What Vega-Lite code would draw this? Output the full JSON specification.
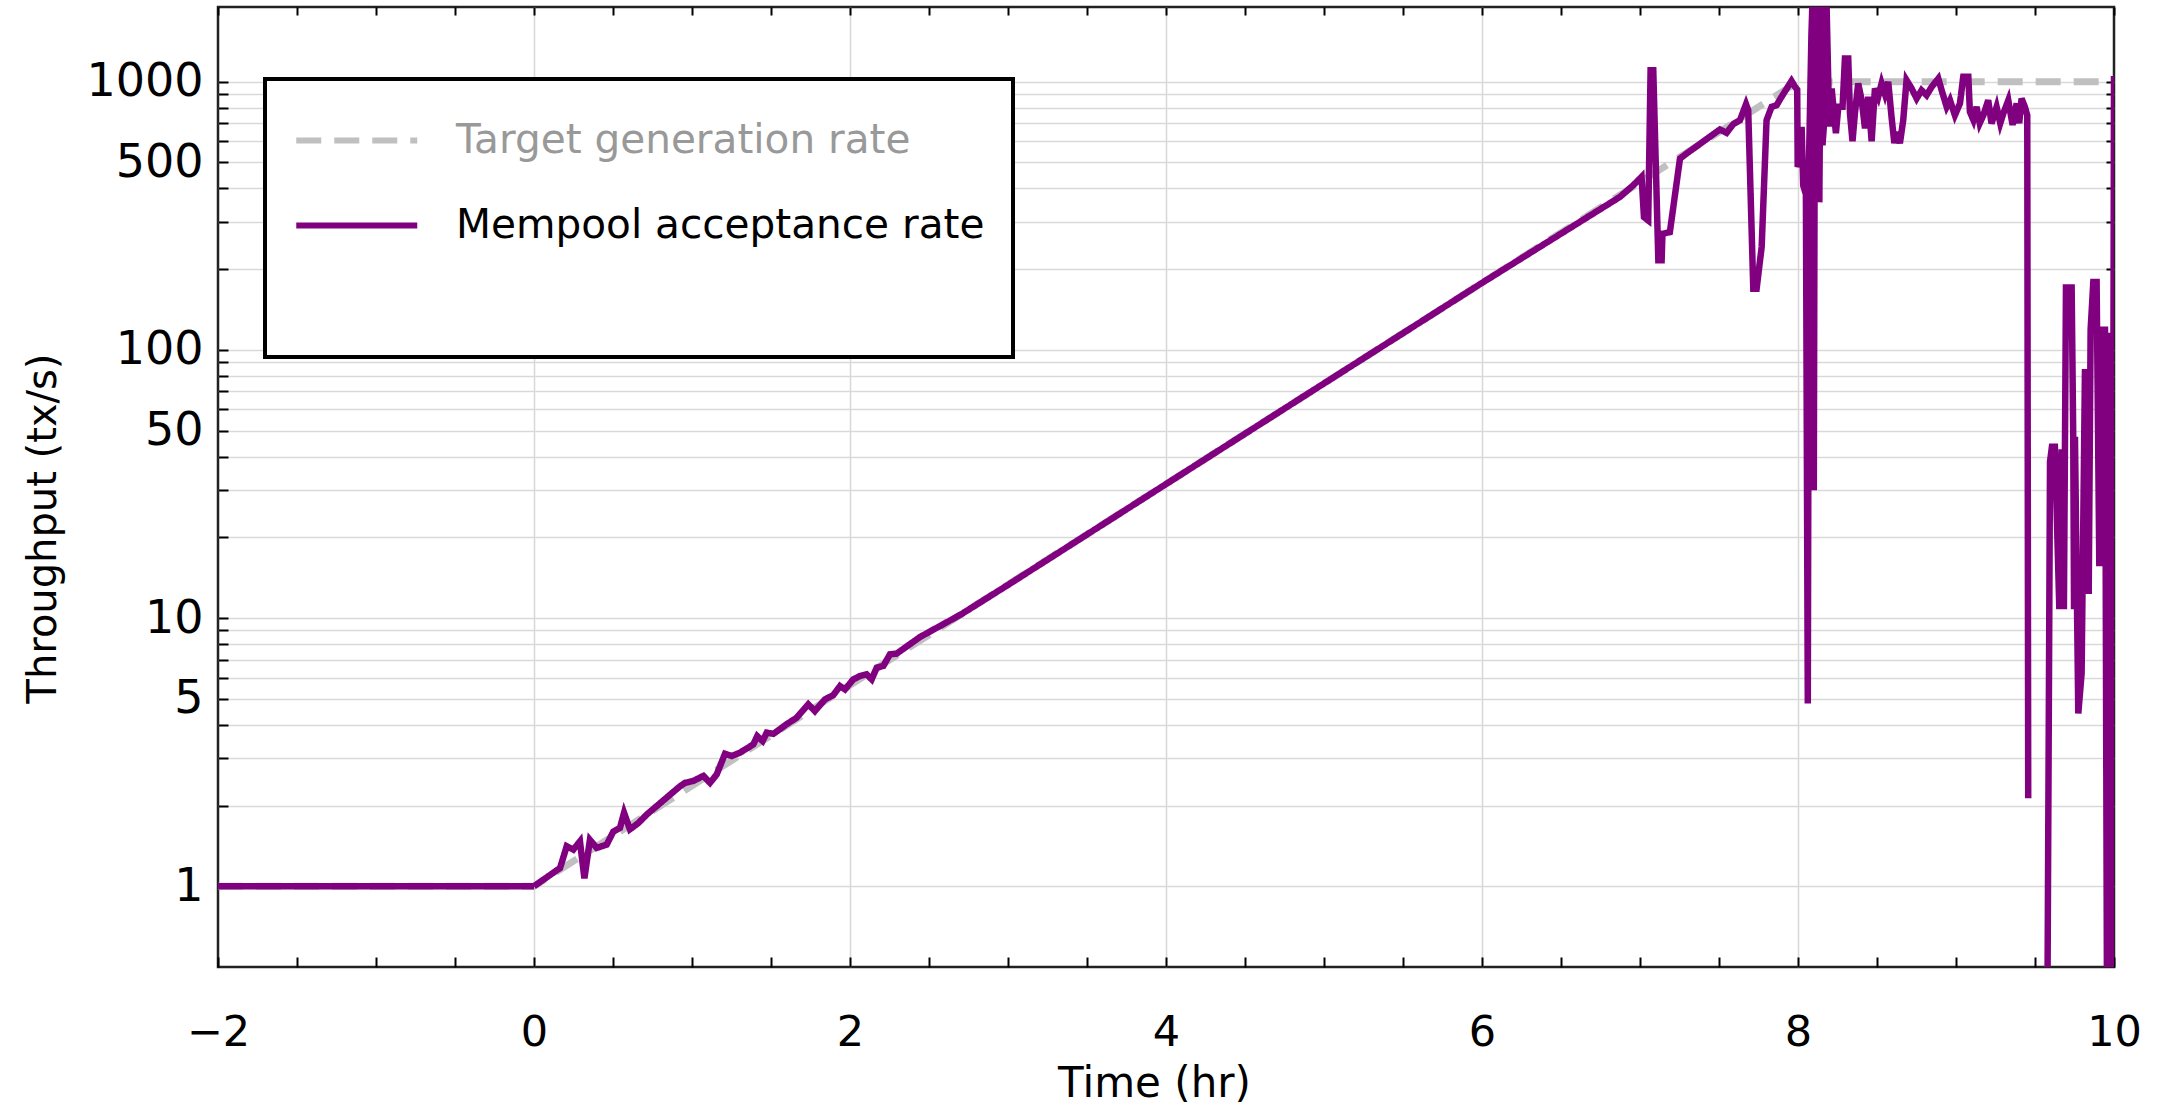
{
  "$schema": "https://vega.github.io/schema/vega-lite/v6.json",
  "autosize": "none",
  "width": 1896,
  "height": 960,
  "padding": {"left": 218, "top": 7, "right": 50, "bottom": 143},
  "background": "white",
  "config": {
    "view": {"stroke": "#222222", "strokeWidth": 2.5},
    "font": "DejaVu Sans"
  },
  "data": {
    "values": [
      {"t": -2, "rate": 1, "series": "Target generation rate"},
      {"t": 0, "rate": 1, "series": "Target generation rate"},
      {"t": 8, "rate": 1000, "series": "Target generation rate"},
      {"t": 10, "rate": 1000, "series": "Target generation rate"},

      {"t": -2, "rate": 1, "series": "Mempool acceptance rate"},
      {"t": 0, "rate": 1, "series": "Mempool acceptance rate"},
      {"t": 0.165, "rate": 1.17, "series": "Mempool acceptance rate"},
      {"t": 0.207, "rate": 1.41, "series": "Mempool acceptance rate"},
      {"t": 0.249, "rate": 1.37, "series": "Mempool acceptance rate"},
      {"t": 0.291, "rate": 1.47, "series": "Mempool acceptance rate"},
      {"t": 0.319, "rate": 1.07, "series": "Mempool acceptance rate"},
      {"t": 0.354, "rate": 1.49, "series": "Mempool acceptance rate"},
      {"t": 0.397, "rate": 1.39, "series": "Mempool acceptance rate"},
      {"t": 0.46, "rate": 1.43, "series": "Mempool acceptance rate"},
      {"t": 0.502, "rate": 1.6, "series": "Mempool acceptance rate"},
      {"t": 0.544, "rate": 1.65, "series": "Mempool acceptance rate"},
      {"t": 0.57, "rate": 1.88, "series": "Mempool acceptance rate"},
      {"t": 0.607, "rate": 1.63, "series": "Mempool acceptance rate"},
      {"t": 0.66, "rate": 1.72, "series": "Mempool acceptance rate"},
      {"t": 0.713, "rate": 1.85, "series": "Mempool acceptance rate"},
      {"t": 0.924, "rate": 2.36, "series": "Mempool acceptance rate"},
      {"t": 0.956, "rate": 2.43, "series": "Mempool acceptance rate"},
      {"t": 1.008, "rate": 2.47, "series": "Mempool acceptance rate"},
      {"t": 1.072, "rate": 2.58, "series": "Mempool acceptance rate"},
      {"t": 1.114, "rate": 2.43, "series": "Mempool acceptance rate"},
      {"t": 1.156, "rate": 2.61, "series": "Mempool acceptance rate"},
      {"t": 1.209, "rate": 3.12, "series": "Mempool acceptance rate"},
      {"t": 1.251, "rate": 3.06, "series": "Mempool acceptance rate"},
      {"t": 1.304, "rate": 3.15, "series": "Mempool acceptance rate"},
      {"t": 1.388, "rate": 3.38, "series": "Mempool acceptance rate"},
      {"t": 1.413, "rate": 3.63, "series": "Mempool acceptance rate"},
      {"t": 1.447, "rate": 3.48, "series": "Mempool acceptance rate"},
      {"t": 1.473, "rate": 3.74, "series": "Mempool acceptance rate"},
      {"t": 1.515, "rate": 3.7, "series": "Mempool acceptance rate"},
      {"t": 1.599, "rate": 4.02, "series": "Mempool acceptance rate"},
      {"t": 1.662, "rate": 4.25, "series": "Mempool acceptance rate"},
      {"t": 1.736, "rate": 4.77, "series": "Mempool acceptance rate"},
      {"t": 1.778, "rate": 4.5, "series": "Mempool acceptance rate"},
      {"t": 1.842, "rate": 4.98, "series": "Mempool acceptance rate"},
      {"t": 1.894, "rate": 5.16, "series": "Mempool acceptance rate"},
      {"t": 1.937, "rate": 5.58, "series": "Mempool acceptance rate"},
      {"t": 1.968, "rate": 5.42, "series": "Mempool acceptance rate"},
      {"t": 2.021, "rate": 5.91, "series": "Mempool acceptance rate"},
      {"t": 2.063, "rate": 6.08, "series": "Mempool acceptance rate"},
      {"t": 2.105, "rate": 6.17, "series": "Mempool acceptance rate"},
      {"t": 2.137, "rate": 5.91, "series": "Mempool acceptance rate"},
      {"t": 2.169, "rate": 6.53, "series": "Mempool acceptance rate"},
      {"t": 2.211, "rate": 6.63, "series": "Mempool acceptance rate"},
      {"t": 2.253, "rate": 7.33, "series": "Mempool acceptance rate"},
      {"t": 2.295, "rate": 7.37, "series": "Mempool acceptance rate"},
      {"t": 2.443, "rate": 8.5, "series": "Mempool acceptance rate"},
      {"t": 2.7, "rate": 10.3, "series": "Mempool acceptance rate"},
      {"t": 3.0, "rate": 13.3, "series": "Mempool acceptance rate"},
      {"t": 4.0, "rate": 31.6, "series": "Mempool acceptance rate"},
      {"t": 5.0, "rate": 75.0, "series": "Mempool acceptance rate"},
      {"t": 6.0, "rate": 177.8, "series": "Mempool acceptance rate"},
      {"t": 6.873, "rate": 372, "series": "Mempool acceptance rate"},
      {"t": 6.957, "rate": 411, "series": "Mempool acceptance rate"},
      {"t": 7.01, "rate": 442, "series": "Mempool acceptance rate"},
      {"t": 7.025, "rate": 313, "series": "Mempool acceptance rate"},
      {"t": 7.052, "rate": 304, "series": "Mempool acceptance rate"},
      {"t": 7.067, "rate": 1105, "series": "Mempool acceptance rate"},
      {"t": 7.084, "rate": 1105, "series": "Mempool acceptance rate"},
      {"t": 7.116, "rate": 216, "series": "Mempool acceptance rate"},
      {"t": 7.137, "rate": 216, "series": "Mempool acceptance rate"},
      {"t": 7.142, "rate": 271, "series": "Mempool acceptance rate"},
      {"t": 7.189, "rate": 275, "series": "Mempool acceptance rate"},
      {"t": 7.253, "rate": 517, "series": "Mempool acceptance rate"},
      {"t": 7.295, "rate": 540, "series": "Mempool acceptance rate"},
      {"t": 7.506, "rate": 664, "series": "Mempool acceptance rate"},
      {"t": 7.548, "rate": 645, "series": "Mempool acceptance rate"},
      {"t": 7.59, "rate": 695, "series": "Mempool acceptance rate"},
      {"t": 7.633, "rate": 719, "series": "Mempool acceptance rate"},
      {"t": 7.671, "rate": 825, "series": "Mempool acceptance rate"},
      {"t": 7.685, "rate": 783, "series": "Mempool acceptance rate"},
      {"t": 7.717, "rate": 169, "series": "Mempool acceptance rate"},
      {"t": 7.738, "rate": 169, "series": "Mempool acceptance rate"},
      {"t": 7.77, "rate": 242, "series": "Mempool acceptance rate"},
      {"t": 7.801, "rate": 719, "series": "Mempool acceptance rate"},
      {"t": 7.833, "rate": 806, "series": "Mempool acceptance rate"},
      {"t": 7.865, "rate": 818, "series": "Mempool acceptance rate"},
      {"t": 7.896, "rate": 879, "series": "Mempool acceptance rate"},
      {"t": 7.959, "rate": 1007, "series": "Mempool acceptance rate"},
      {"t": 7.985, "rate": 950, "series": "Mempool acceptance rate"},
      {"t": 7.995, "rate": 934, "series": "Mempool acceptance rate"},
      {"t": 7.998, "rate": 481, "series": "Mempool acceptance rate"},
      {"t": 8.015, "rate": 520, "series": "Mempool acceptance rate"},
      {"t": 8.023, "rate": 679, "series": "Mempool acceptance rate"},
      {"t": 8.033, "rate": 411, "series": "Mempool acceptance rate"},
      {"t": 8.05, "rate": 380, "series": "Mempool acceptance rate"},
      {"t": 8.062, "rate": 4.8, "series": "Mempool acceptance rate"},
      {"t": 8.07, "rate": 520, "series": "Mempool acceptance rate"},
      {"t": 8.085, "rate": 1500, "series": "Mempool acceptance rate"},
      {"t": 8.095, "rate": 2300, "series": "Mempool acceptance rate"},
      {"t": 8.1, "rate": 30, "series": "Mempool acceptance rate"},
      {"t": 8.108, "rate": 2300, "series": "Mempool acceptance rate"},
      {"t": 8.116, "rate": 520, "series": "Mempool acceptance rate"},
      {"t": 8.125, "rate": 2300, "series": "Mempool acceptance rate"},
      {"t": 8.135, "rate": 355, "series": "Mempool acceptance rate"},
      {"t": 8.145, "rate": 2300, "series": "Mempool acceptance rate"},
      {"t": 8.155, "rate": 580, "series": "Mempool acceptance rate"},
      {"t": 8.165, "rate": 700, "series": "Mempool acceptance rate"},
      {"t": 8.178, "rate": 2300, "series": "Mempool acceptance rate"},
      {"t": 8.198, "rate": 680, "series": "Mempool acceptance rate"},
      {"t": 8.213, "rate": 944, "series": "Mempool acceptance rate"},
      {"t": 8.24, "rate": 643, "series": "Mempool acceptance rate"},
      {"t": 8.255, "rate": 806, "series": "Mempool acceptance rate"},
      {"t": 8.282, "rate": 806, "series": "Mempool acceptance rate"},
      {"t": 8.297, "rate": 1222, "series": "Mempool acceptance rate"},
      {"t": 8.318, "rate": 1222, "series": "Mempool acceptance rate"},
      {"t": 8.329, "rate": 760, "series": "Mempool acceptance rate"},
      {"t": 8.345, "rate": 600, "series": "Mempool acceptance rate"},
      {"t": 8.36, "rate": 760, "series": "Mempool acceptance rate"},
      {"t": 8.381, "rate": 986, "series": "Mempool acceptance rate"},
      {"t": 8.403, "rate": 853, "series": "Mempool acceptance rate"},
      {"t": 8.424, "rate": 670, "series": "Mempool acceptance rate"},
      {"t": 8.445, "rate": 879, "series": "Mempool acceptance rate"},
      {"t": 8.466, "rate": 600, "series": "Mempool acceptance rate"},
      {"t": 8.487, "rate": 944, "series": "Mempool acceptance rate"},
      {"t": 8.508, "rate": 879, "series": "Mempool acceptance rate"},
      {"t": 8.529, "rate": 986, "series": "Mempool acceptance rate"},
      {"t": 8.55, "rate": 900, "series": "Mempool acceptance rate"},
      {"t": 8.571, "rate": 1000, "series": "Mempool acceptance rate"},
      {"t": 8.592, "rate": 739, "series": "Mempool acceptance rate"},
      {"t": 8.61, "rate": 590, "series": "Mempool acceptance rate"},
      {"t": 8.624, "rate": 650, "series": "Mempool acceptance rate"},
      {"t": 8.645, "rate": 590, "series": "Mempool acceptance rate"},
      {"t": 8.666, "rate": 719, "series": "Mempool acceptance rate"},
      {"t": 8.687, "rate": 1014, "series": "Mempool acceptance rate"},
      {"t": 8.719, "rate": 944, "series": "Mempool acceptance rate"},
      {"t": 8.751, "rate": 866, "series": "Mempool acceptance rate"},
      {"t": 8.782, "rate": 930, "series": "Mempool acceptance rate"},
      {"t": 8.814, "rate": 891, "series": "Mempool acceptance rate"},
      {"t": 8.846, "rate": 957, "series": "Mempool acceptance rate"},
      {"t": 8.888, "rate": 1028, "series": "Mempool acceptance rate"},
      {"t": 8.909, "rate": 930, "series": "Mempool acceptance rate"},
      {"t": 8.941, "rate": 806, "series": "Mempool acceptance rate"},
      {"t": 8.962, "rate": 853, "series": "Mempool acceptance rate"},
      {"t": 8.993, "rate": 750, "series": "Mempool acceptance rate"},
      {"t": 9.025, "rate": 830, "series": "Mempool acceptance rate"},
      {"t": 9.046, "rate": 1043, "series": "Mempool acceptance rate"},
      {"t": 9.078, "rate": 1043, "series": "Mempool acceptance rate"},
      {"t": 9.088, "rate": 772, "series": "Mempool acceptance rate"},
      {"t": 9.11, "rate": 720, "series": "Mempool acceptance rate"},
      {"t": 9.13, "rate": 806, "series": "Mempool acceptance rate"},
      {"t": 9.15, "rate": 700, "series": "Mempool acceptance rate"},
      {"t": 9.173, "rate": 750, "series": "Mempool acceptance rate"},
      {"t": 9.204, "rate": 853, "series": "Mempool acceptance rate"},
      {"t": 9.225, "rate": 698, "series": "Mempool acceptance rate"},
      {"t": 9.257, "rate": 806, "series": "Mempool acceptance rate"},
      {"t": 9.28, "rate": 700, "series": "Mempool acceptance rate"},
      {"t": 9.299, "rate": 760, "series": "Mempool acceptance rate"},
      {"t": 9.331, "rate": 853, "series": "Mempool acceptance rate"},
      {"t": 9.358, "rate": 690, "series": "Mempool acceptance rate"},
      {"t": 9.384, "rate": 830, "series": "Mempool acceptance rate"},
      {"t": 9.4, "rate": 700, "series": "Mempool acceptance rate"},
      {"t": 9.415, "rate": 866, "series": "Mempool acceptance rate"},
      {"t": 9.436, "rate": 806, "series": "Mempool acceptance rate"},
      {"t": 9.451, "rate": 750, "series": "Mempool acceptance rate"},
      {"t": 9.457, "rate": 2.13, "series": "Mempool acceptance rate"},
      {"t": 9.5, "rate": null, "series": "Mempool acceptance rate"},
      {"t": 9.578, "rate": 0.3, "series": "Mempool acceptance rate"},
      {"t": 9.595, "rate": 38.3, "series": "Mempool acceptance rate"},
      {"t": 9.607, "rate": 43.5, "series": "Mempool acceptance rate"},
      {"t": 9.626, "rate": 43.5, "series": "Mempool acceptance rate"},
      {"t": 9.654, "rate": 10.8, "series": "Mempool acceptance rate"},
      {"t": 9.669, "rate": 42.6, "series": "Mempool acceptance rate"},
      {"t": 9.683, "rate": 10.8, "series": "Mempool acceptance rate"},
      {"t": 9.696, "rate": 171, "series": "Mempool acceptance rate"},
      {"t": 9.732, "rate": 171, "series": "Mempool acceptance rate"},
      {"t": 9.742, "rate": 47.4, "series": "Mempool acceptance rate"},
      {"t": 9.747, "rate": 10.8, "series": "Mempool acceptance rate"},
      {"t": 9.753, "rate": 47.4, "series": "Mempool acceptance rate"},
      {"t": 9.774, "rate": 4.41, "series": "Mempool acceptance rate"},
      {"t": 9.795, "rate": 6.21, "series": "Mempool acceptance rate"},
      {"t": 9.816, "rate": 82.6, "series": "Mempool acceptance rate"},
      {"t": 9.831, "rate": 82.6, "series": "Mempool acceptance rate"},
      {"t": 9.84, "rate": 12.3, "series": "Mempool acceptance rate"},
      {"t": 9.852, "rate": 119, "series": "Mempool acceptance rate"},
      {"t": 9.869, "rate": 179, "series": "Mempool acceptance rate"},
      {"t": 9.89, "rate": 179, "series": "Mempool acceptance rate"},
      {"t": 9.907, "rate": 15.6, "series": "Mempool acceptance rate"},
      {"t": 9.92, "rate": 119, "series": "Mempool acceptance rate"},
      {"t": 9.943, "rate": 119, "series": "Mempool acceptance rate"},
      {"t": 9.956, "rate": 0.3, "series": "Mempool acceptance rate"},
      {"t": 9.972, "rate": 116, "series": "Mempool acceptance rate"},
      {"t": 9.988, "rate": 0.3, "series": "Mempool acceptance rate"},
      {"t": 10.0, "rate": 1050, "series": "Mempool acceptance rate"}
    ]
  },
  "layer": [
    {
      "transform": [{"filter": "datum.series === 'Target generation rate'"}],
      "mark": {"type": "line", "clip": true, "strokeWidth": 7, "strokeCap": "butt"},
      "encoding": {
        "x": {
          "field": "t", "type": "quantitative",
          "scale": {"domain": [-2, 10], "nice": false, "zero": false},
          "axis": {
            "orient": "bottom",
            "values": [-2, -1.5, -1, -0.5, 0, 0.5, 1, 1.5, 2, 2.5, 3, 3.5, 4, 4.5, 5, 5.5, 6, 6.5, 7, 7.5, 8, 8.5, 9, 9.5, 10],
            "labelExpr": "datum.value % 2 === 0 ? (datum.value < 0 ? '\u2212' + abs(datum.value) : '' + datum.value) : ''",
            "labelFont": "DejaVu Sans", "labelFontSize": 43, "labelColor": "#000000",
            "labelOverlap": false, "labelFlush": false, "labelPadding": 54,
            "tickSize": -10, "tickColor": "#000000", "tickWidth": 2,
            "domain": false,
            "grid": true, "gridColor": "#d9d9d9", "gridWidth": 1.6,
            "gridOpacity": {"condition": {"test": "datum.value % 2 === 0 && datum.value > -2 && datum.value < 10", "value": 1}, "value": 0},
            "title": "Time (hr)",
            "titleFont": "DejaVu Sans", "titleFontSize": 42, "titleFontWeight": "normal", "titleColor": "#000000",
            "titleX": 936, "titleY": 129, "titleBaseline": "alphabetic", "titleAlign": "center"
          }
        },
        "y": {
          "field": "rate", "type": "quantitative",
          "scale": {"type": "log", "domain": [0.5, 1900], "nice": false},
          "axis": {
            "orient": "left",
            "values": [1, 2, 3, 4, 5, 6, 7, 8, 9, 10, 20, 30, 40, 50, 60, 70, 80, 90, 100, 200, 300, 400, 500, 600, 700, 800, 900, 1000],
            "labelExpr": "indexof([1, 5, 10, 50, 100, 500, 1000], datum.value) >= 0 ? '' + datum.value : ''",
            "labelFont": "DejaVu Sans", "labelFontSize": 46, "labelColor": "#000000",
            "labelOverlap": false, "labelFlush": false, "labelPadding": 25,
            "tickSize": -10, "tickColor": "#000000", "tickWidth": 2,
            "domain": false,
            "grid": true, "gridColor": "#d9d9d9", "gridWidth": 1.6,
            "title": "Throughput (tx/s)",
            "titleFont": "DejaVu Sans", "titleFontSize": 40, "titleFontWeight": "normal", "titleColor": "#000000",
            "titleX": -175, "titleY": 521, "titleAngle": -90, "titleBaseline": "middle", "titleAlign": "center"
          }
        },
        "color": {
          "field": "series", "type": "nominal",
          "scale": {"domain": ["Target generation rate", "Mempool acceptance rate"], "range": ["#c0c0c0", "#800080"]},
          "legend": {
            "orient": "none", "legendX": 47, "legendY": 72,
            "title": " ", "titleOrient": "bottom", "titleFontSize": 1, "titlePadding": 82,
            "symbolType": "M-1,0H3", "symbolSize": 3660, "symbolStrokeWidth": 6,
            "labelFont": "DejaVu Sans", "labelFontSize": 40.6, "labelOffset": 96, "labelLimit": 1000,
            "rowPadding": 30, "padding": 28,
            "encode": {
              "legend": {"update": {"stroke": {"value": "#000000"}, "strokeWidth": {"value": 4}, "fill": {"value": "#ffffff"}}},
              "labels": {"update": {"fill": {"signal": "datum.label === 'Target generation rate' ? '#999999' : '#000000'"}}}
            }
          }
        },
        "strokeDash": {
          "field": "series", "type": "nominal",
          "scale": {"domain": ["Target generation rate", "Mempool acceptance rate"], "range": [[25, 13], [1, 0]]},
          "legend": {
            "orient": "none", "legendX": 47, "legendY": 72,
            "title": " ", "titleOrient": "bottom", "titleFontSize": 1, "titlePadding": 82,
            "symbolType": "M-1,0H3", "symbolSize": 3660, "symbolStrokeWidth": 6,
            "labelFont": "DejaVu Sans", "labelFontSize": 40.6, "labelOffset": 96, "labelLimit": 1000,
            "rowPadding": 30, "padding": 28,
            "encode": {
              "legend": {"update": {"stroke": {"value": "#000000"}, "strokeWidth": {"value": 4}, "fill": {"value": "#ffffff"}}},
              "labels": {"update": {"fill": {"signal": "datum.label === 'Target generation rate' ? '#999999' : '#000000'"}}}
            }
          }
        }
      }
    },
    {
      "transform": [{"filter": "datum.series === 'Mempool acceptance rate'"}],
      "mark": {"type": "line", "clip": true, "strokeWidth": 6.5, "strokeJoin": "miter", "invalid": "break-paths-show-domains"},
      "encoding": {
        "x": {
          "field": "t", "type": "quantitative",
          "axis": {
            "orient": "top",
            "values": [-2, -1.5, -1, -0.5, 0, 0.5, 1, 1.5, 2, 2.5, 3, 3.5, 4, 4.5, 5, 5.5, 6, 6.5, 7, 7.5, 8, 8.5, 9, 9.5, 10],
            "labels": false, "tickSize": -8, "tickColor": "#000000", "tickWidth": 2,
            "domain": false, "grid": false, "title": null
          }
        },
        "y": {
          "field": "rate", "type": "quantitative",
          "axis": {
            "orient": "right",
            "values": [1, 2, 3, 4, 5, 6, 7, 8, 9, 10, 20, 30, 40, 50, 60, 70, 80, 90, 100, 200, 300, 400, 500, 600, 700, 800, 900, 1000],
            "labels": false, "tickSize": -8, "tickColor": "#000000", "tickWidth": 2,
            "domain": false, "grid": false, "title": null
          }
        },
        "color": {"field": "series", "type": "nominal"},
        "strokeDash": {"field": "series", "type": "nominal"}
      }
    }
  ],
  "resolve": {"axis": {"x": "independent", "y": "independent"}}
}
